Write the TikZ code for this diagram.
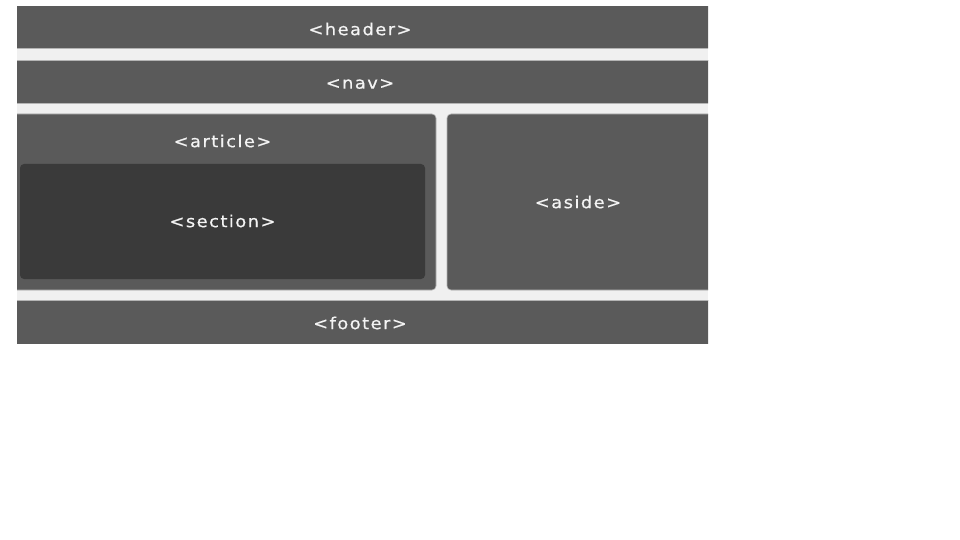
\documentclass[tikz,border=0pt]{standalone}
\usepackage{fontspec}
\newfontfamily\tagfont[FakeStretch=1.08, LetterSpace=9, FakeBold=0.6]{DejaVu Sans}
\definecolor{pagebg}{HTML}{F0F0F0}
\definecolor{boxfill}{HTML}{5A5A5A}
\definecolor{innerfill}{HTML}{3A3A3A}
\definecolor{edge}{HTML}{B4B4B4}
\definecolor{tagtext}{HTML}{F4F4F4}
\begin{document}
\begin{tikzpicture}[x=1pt,y=-1pt,
  region/.style={fill=boxfill, draw=edge, line width=0.6pt, inner sep=0pt, outer sep=0pt},
  rounded/.style={region, rounded corners=4pt},
  inner/.style={fill=innerfill, draw=none, rounded corners=4pt},
  tag/.style={text=tagtext, font=\tagfont\fontsize{16.5}{18}\selectfont, inner sep=0pt}]
  \useasboundingbox (0,0) rectangle (960,540);
  % page area behind the layout blocks
  \fill[pagebg] (17,7) rectangle (708,343);
  \begin{scope}
    \clip (17,7) rectangle (708,343);
    % full-width bars
    \path[region] (10,0) rectangle (715,48);
    \path[region] (10,60) rectangle (715,103);
    \path[region] (10,300) rectangle (715,350);
    % main column and sidebar
    \path[rounded] (10,114) rectangle (436,290);
    \path[inner] (20,164) rectangle (425,279);
    \path[rounded] (447,114) rectangle (715,290);
  \end{scope}
  % labels
  \node[tag] (header)  at (360,29)  {<header>};
  \node[tag] (nav)     at (360,84)  {<nav>};
  \node[tag] (article) at (222.5,141) {<article>};
  \node[tag] (section) at (222.5,221) {<section>};
  \node[tag] (aside)   at (578,202)   {<aside>};
  \node[tag] (footer)  at (360,323) {<footer>};
\end{tikzpicture}
\end{document}
